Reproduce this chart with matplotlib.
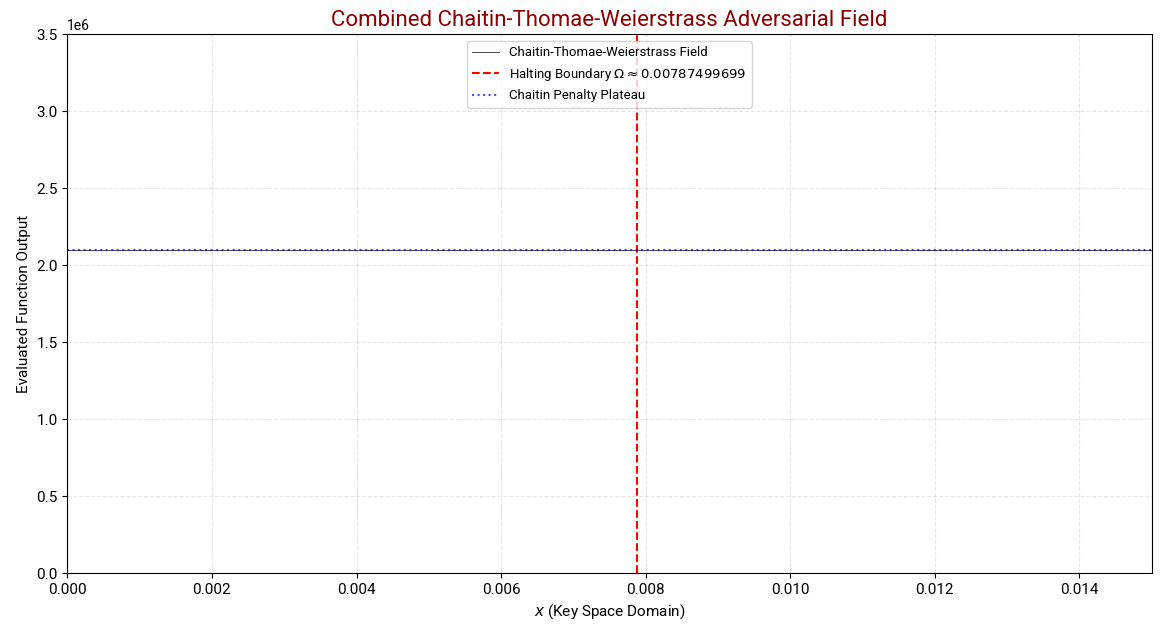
import matplotlib as mpl
mpl.use('Agg')
import matplotlib.pyplot as plt
import numpy as np

plt.rcParams['font.family'] = ['Roboto', 'DejaVu Sans']

# data
x_field = [0.0, 0.005, 0.010, 0.015]
y_field = [2.1e6, 2.1e6, 2.1e6, 2.1e6]
omega = 0.00787499699
plateau = 2.1e6
xlim = (0.0, 0.015)
ylim = (0.0, 3.5e6)

fig, ax = plt.subplots(figsize=(11.61, 6.36), dpi=100)
ax.plot(x_field, y_field, color='black', lw=0.7, alpha=0.7,
        label='Chaitin-Thomae-Weierstrass Field')
ax.axvline(omega, color='red', ls='--', lw=1.5,
           label=r'Halting Boundary $\Omega \approx 0.00787499699$')
ax.axhline(plateau, color='blue', ls=':', lw=1.5, alpha=0.7,
           label='Chaitin Penalty Plateau')

ax.set_xlim(*xlim)
ax.set_ylim(*ylim)
ax.set_title('Combined Chaitin-Thomae-Weierstrass Adversarial Field',
             fontsize=16, color='darkred')
ax.set_xlabel(r'$x$ (Key Space Domain)', fontsize=11)
ax.set_ylabel('Evaluated Function Output', fontsize=11)
ax.tick_params(axis='both', labelsize=11)
ax.grid(ls='--', alpha=0.3)
ax.legend(loc='upper center', fontsize=9.5)

fig.subplots_adjust(left=0.058, right=0.992, top=0.946, bottom=0.099)
plt.savefig('out.png', dpi=100)
